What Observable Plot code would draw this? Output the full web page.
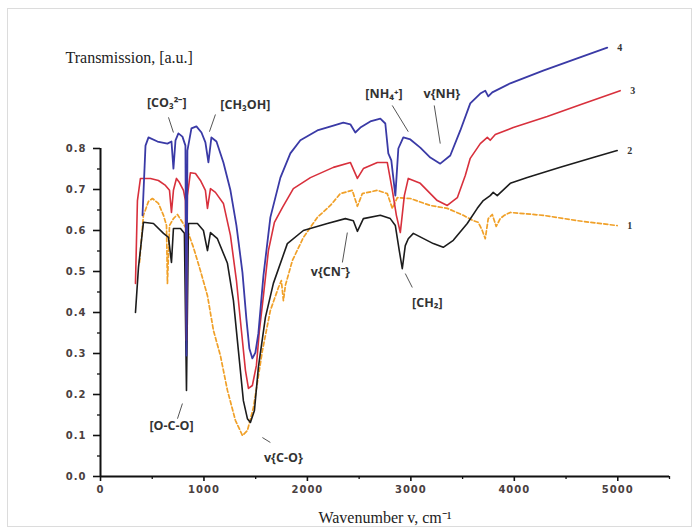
<!DOCTYPE html>
<html>
<head>
<meta charset="utf-8">
<script src="https://cdn.jsdelivr.net/npm/d3@7"></script>
<script src="https://cdn.jsdelivr.net/npm/@observablehq/plot@0.6"></script>
<style>
  html, body { margin: 0; padding: 0; background: #fff; overflow: hidden; }
  #wrap { position: relative; width: 698px; height: 531px; }
  #chart { position: absolute; left: 0; top: 0; }
  #frame { position: absolute; left: 7px; top: 8px; width: 683px; height: 517px; border: 1px solid #dcdcdc; pointer-events: none; }
  g[aria-label="x-axis tick label"] text, g[aria-label="y-axis tick label"] text { font-weight: bold; letter-spacing: 1px; }
  g[aria-label="band label"] text { letter-spacing: 1.5px; }
</style>
</head>
<body>
<div id="wrap"><div id="chart"></div><div id="frame"></div></div>
<script>
// IR transmission spectra: [wavenumber (cm^-1), transmission (a.u.)]
const spectrum1 = [
  [377,0.522],[415,0.637],[464,0.671],[502,0.678],[560,0.666],[609,0.637],[638,0.612],[647,0.471],
  [667,0.612],[705,0.629],[744,0.639],[792,0.620],[840,0.600],[898,0.559],[966,0.502],[1034,0.441],
  [1092,0.356],[1159,0.295],[1227,0.210],[1304,0.137],[1372,0.100],[1420,0.112],[1478,0.168],
  [1565,0.307],[1642,0.405],[1720,0.461],[1748,0.478],[1768,0.429],[1787,0.466],[1855,0.527],
  [1961,0.583],[2096,0.632],[2222,0.661],[2318,0.690],[2434,0.698],[2483,0.659],[2531,0.690],
  [2676,0.698],[2772,0.690],[2821,0.654],[2869,0.680],[2995,0.678],[3188,0.661],[3352,0.654],
  [3507,0.637],[3603,0.624],[3651,0.620],[3690,0.600],[3719,0.580],[3748,0.629],[3787,0.639],
  [3825,0.610],[3864,0.629],[3903,0.637],[3961,0.644],[4279,0.637],[4608,0.624],[4994,0.612]
];
const spectrum2 = [
  [338,0.400],[367,0.510],[415,0.620],[512,0.617],[609,0.593],[657,0.583],[686,0.522],[705,0.605],
  [773,0.605],[811,0.593],[831,0.210],[850,0.617],[937,0.617],[995,0.600],[1034,0.551],[1063,0.595],
  [1130,0.580],[1227,0.520],[1285,0.429],[1333,0.307],[1381,0.185],[1420,0.141],[1449,0.132],
  [1488,0.161],[1526,0.266],[1594,0.388],[1671,0.471],[1806,0.568],[1961,0.600],[2193,0.617],
  [2367,0.629],[2444,0.624],[2483,0.598],[2541,0.629],[2705,0.637],[2801,0.629],[2850,0.612],
  [2888,0.551],[2917,0.507],[2946,0.563],[2975,0.580],[3024,0.593],[3217,0.568],[3313,0.559],
  [3410,0.576],[3545,0.617],[3642,0.654],[3700,0.673],[3767,0.685],[3796,0.693],[3835,0.685],
  [3961,0.715],[4125,0.729],[4444,0.754],[4762,0.778],[4994,0.795]
];
const spectrum3 = [
  [338,0.471],[357,0.673],[386,0.727],[483,0.727],[560,0.722],[628,0.710],[667,0.698],[686,0.644],
  [705,0.698],[734,0.727],[763,0.717],[802,0.698],[821,0.673],[831,0.332],[840,0.685],[869,0.741],
  [918,0.739],[966,0.722],[1014,0.698],[1034,0.654],[1063,0.702],[1111,0.693],[1188,0.666],
  [1256,0.588],[1314,0.478],[1362,0.356],[1401,0.259],[1430,0.215],[1468,0.222],[1507,0.271],
  [1536,0.356],[1575,0.441],[1623,0.551],[1681,0.620],[1758,0.656],[1864,0.702],[2029,0.729],
  [2251,0.754],[2415,0.766],[2483,0.727],[2541,0.751],[2676,0.766],[2772,0.766],[2821,0.698],
  [2860,0.637],[2898,0.595],[2937,0.685],[2975,0.727],[3091,0.715],[3255,0.673],[3352,0.661],
  [3449,0.680],[3526,0.734],[3574,0.776],[3671,0.812],[3739,0.827],[3767,0.820],[3816,0.834],
  [3990,0.851],[4318,0.878],[4637,0.907],[5023,0.941]
];
const spectrum4 = [
  [406,0.637],[435,0.807],[464,0.827],[551,0.817],[647,0.812],[686,0.817],[705,0.751],[725,0.820],
  [753,0.837],[792,0.829],[821,0.807],[831,0.295],[840,0.795],[879,0.849],[927,0.854],[976,0.839],
  [1014,0.815],[1043,0.766],[1072,0.827],[1121,0.817],[1188,0.766],[1256,0.698],[1314,0.612],
  [1372,0.498],[1410,0.385],[1439,0.312],[1468,0.288],[1497,0.302],[1526,0.349],[1575,0.490],
  [1642,0.632],[1739,0.729],[1835,0.788],[1932,0.820],[2096,0.844],[2251,0.856],[2347,0.863],
  [2415,0.859],[2463,0.839],[2512,0.851],[2608,0.866],[2705,0.873],[2753,0.861],[2782,0.788],
  [2811,0.771],[2850,0.685],[2879,0.800],[2927,0.827],[2995,0.822],[3091,0.802],[3188,0.778],
  [3284,0.763],[3381,0.783],[3478,0.844],[3574,0.910],[3671,0.934],[3719,0.941],[3748,0.927],
  [3787,0.937],[3961,0.959],[4279,0.990],[4608,1.020],[4898,1.046]
];

const seriesNames = ["1", "2", "3", "4"];
const seriesColors = ["#f0a028", "#1c1c1c", "#d8303c", "#3a3aa6"];

const xTicks = [0, 1000, 2000, 3000, 4000, 5000];
const xMinorTicks = [500, 1500, 2500, 3500, 4500, 5500];
const yTicks = [0, 0.1, 0.2, 0.3, 0.4, 0.5, 0.6, 0.7, 0.8];
const yMinorTicks = [0.05, 0.15, 0.25, 0.35, 0.45, 0.55, 0.65, 0.75];

// band assignments: label text and its position (cm^-1, a.u.)
const bandLabels = ["[CO\u2083\u00B2\u207B]", "[CH\u2083OH]", "[NH\u2084\u207A]", "v{NH}", "v{CN\u207B}", "[CH\u2082]", "[O-C-O]", "v{C-O}"];
const bandLabelX = [640, 1400, 2740, 3300, 2222, 3159, 686, 1768];
const bandLabelY = [0.912, 0.907, 0.934, 0.934, 0.498, 0.422, 0.124, 0.046];
// leader lines from each label to its band
const leaderX1 = [657, 1111, 2820, 3226, 2338, 3014, 744, 1642];
const leaderY1 = [0.876, 0.883, 0.905, 0.905, 0.522, 0.461, 0.141, 0.083];
const leaderX2 = [705, 1053, 2975, 3284, 2386, 2946, 792, 1565];
const leaderY2 = [0.839, 0.841, 0.841, 0.812, 0.595, 0.495, 0.178, 0.095];

const spectra = [spectrum1, spectrum2, spectrum3, spectrum4];
const rows = spectra.map((s, i) => s.map(([x, y]) => ({x, y, series: seriesNames[i]})));
const ends = spectra.map((s, i) => ({x: s[s.length - 1][0], y: s[s.length - 1][1], series: seriesNames[i]}));
const bands = bandLabels.map((text, i) => ({text, x: bandLabelX[i], y: bandLabelY[i]}));
const leaders = leaderX1.map((x1, i) => ({x1, y1: leaderY1[i], x2: leaderX2[i], y2: leaderY2[i]}));

const chart = Plot.plot({
  width: 698,
  height: 531,
  marginLeft: 100,
  marginRight: 29,
  marginTop: 25,
  marginBottom: 55,
  style: {fontFamily: "'DejaVu Sans', sans-serif", background: "transparent"},
  x: {domain: [0, 5500]},
  y: {domain: [0, 1.1]},
  marks: [
    Plot.line(rows[0], {x: "x", y: "y", stroke: seriesColors[0], strokeWidth: 1.7, strokeDasharray: "4,2.5"}),
    Plot.line(rows[1], {x: "x", y: "y", stroke: seriesColors[1], strokeWidth: 1.6}),
    Plot.line(rows[2], {x: "x", y: "y", stroke: seriesColors[2], strokeWidth: 1.6}),
    Plot.line(rows[3], {x: "x", y: "y", stroke: seriesColors[3], strokeWidth: 1.8}),
    Plot.ruleX([0], {y1: 0, y2: 0.8, stroke: "#111", strokeWidth: 2}),
    Plot.ruleY([0], {x1: 0, x2: 5500, stroke: "#111", strokeWidth: 2}),
    Plot.axisY({ticks: yTicks, tickSize: 7, tickPadding: 7, tickFormat: d3.format(".1f"), fontSize: 10, fill: "#4a4040", stroke: "#111", strokeWidth: 1.6}),
    Plot.axisY({ticks: yMinorTicks, tickSize: 3, tickFormat: () => "", stroke: "#111", strokeWidth: 1.3}),
    Plot.axisX({ticks: xTicks, tickSize: 5, tickPadding: 4, tickFormat: d => String(d), fontSize: 10, fill: "#4a4040", stroke: "#111", strokeWidth: 1.6}),
    Plot.axisX({ticks: xMinorTicks, tickSize: 3, tickFormat: () => "", stroke: "#111", strokeWidth: 1.3}),
    Plot.text(ends, {x: "x", y: "y", text: "series", dx: 10, textAnchor: "start", fontFamily: "'Liberation Serif', serif", fontSize: 10, fontWeight: "bold", fill: "#333"}),
    Plot.link(leaders, {x1: "x1", y1: "y1", x2: "x2", y2: "y2", stroke: "#555", strokeWidth: 1}),
    Plot.text(bands, {x: "x", y: "y", text: "text", ariaLabel: "band label", fontFamily: "'Open Sans', sans-serif", fontWeight: "bold", fontSize: 12.5, fill: "#333"}),
    Plot.text(["Transmission, [a.u.]"], {frameAnchor: "top-left", dx: -35, dy: 37, lineAnchor: "bottom", textAnchor: "start", fontFamily: "'Liberation Serif', serif", fontSize: 16, fill: "#222"}),
    Plot.text(["Wavenumber v, cm\u207B\u00B9"], {frameAnchor: "bottom", dy: 46, lineAnchor: "bottom", fontFamily: "'Liberation Serif', serif", fontSize: 16, fill: "#222"})
  ]
});
document.getElementById("chart").appendChild(chart);
</script>
</body>
</html>
